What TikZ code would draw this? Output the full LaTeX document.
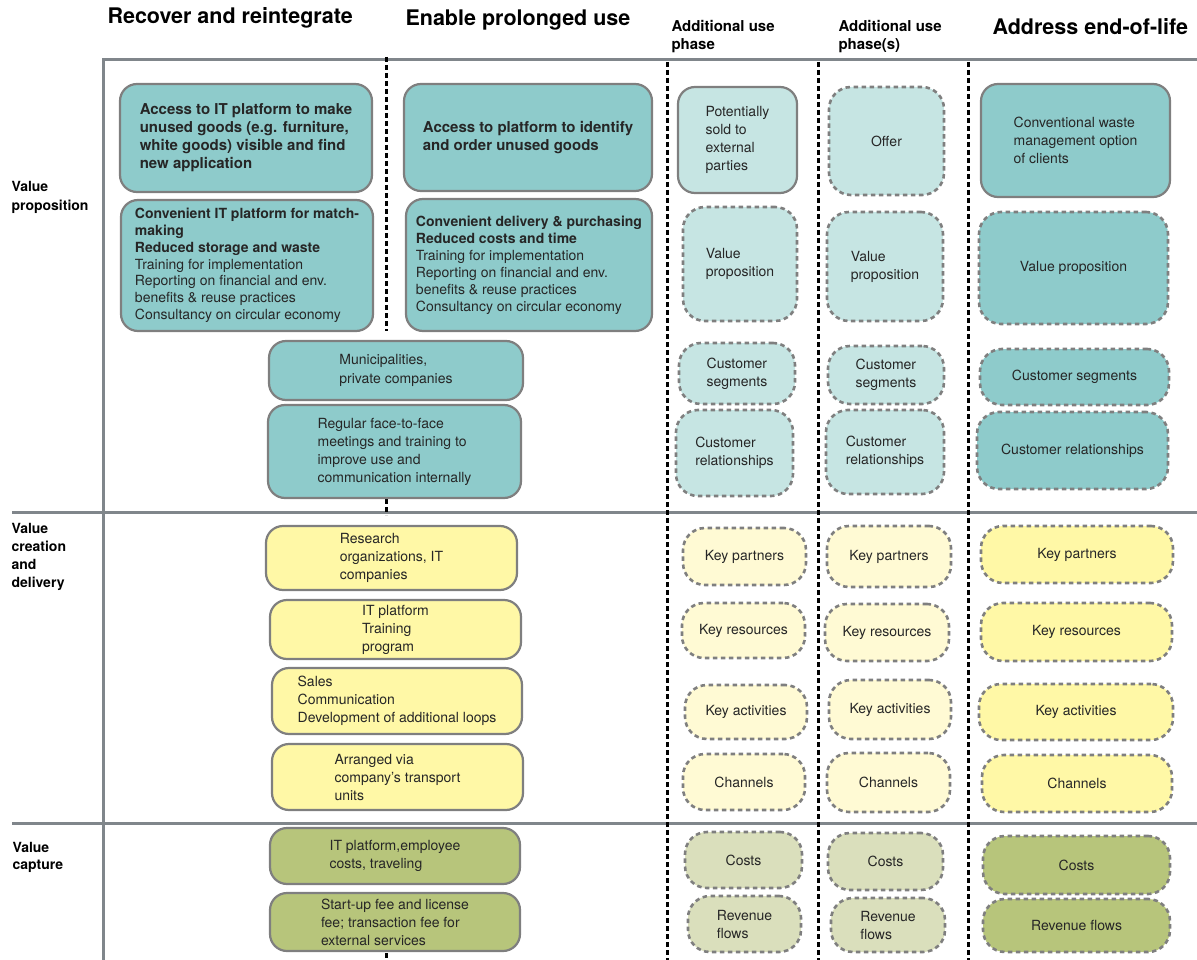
\documentclass[tikz,border=0pt]{standalone}
\usepackage{fontspec}
\setmainfont{TeX Gyre Heros}
\definecolor{tealA}{HTML}{8ECBCB}
\definecolor{tealB}{HTML}{C6E5E3}
\definecolor{yelA}{HTML}{FFF8A6}
\definecolor{yelB}{HTML}{FFFAD4}
\definecolor{grnA}{HTML}{B7C57B}
\definecolor{grnB}{HTML}{DADFBC}
\definecolor{edgegray}{HTML}{7F7F7F}
\definecolor{rulegray}{HTML}{80868B}
\tikzset{
  box/.style={draw=edgegray, line width=2.2pt, text=black!85, align=left, inner sep=0pt,
    font=\fontsize{14}{18}\selectfont},
  solidbox/.style={box, rounded corners=17pt},
  dashbox/.style={box, line width=2.6pt, rounded corners=22pt, dash pattern=on 4.5pt off 3.5pt},
  rule/.style={draw=rulegray, line width=3pt},
  divider/.style={line width=3pt, dash pattern=on 5pt off 3pt},
  heading/.style={anchor=west, font=\fontsize{21.5}{24}\selectfont\bfseries},
  colhead/.style={anchor=west, align=left, font=\fontsize{15}{18}\selectfont\bfseries},
  rowhead/.style={anchor=west, align=left, font=\fontsize{14}{18}\selectfont\bfseries}
}
\begin{document}
\begin{tikzpicture}[x=1pt,y=-1pt]
\useasboundingbox (0,0) rectangle (1197,960);
% frame
\draw[rule] (103,960) -- (103,60) -- (1197,60);
\draw[rule] (12,512) -- (1197,512);
\draw[rule] (12,823) -- (1197,823);
\draw[divider] (386,57) -- (386,331);
\draw[divider] (386,499) -- (386,515);
\draw[divider] (386,953) -- (386,960);
\draw[divider] (667,62) -- (667,960);
\draw[divider] (818,62) -- (818,960);
\draw[divider] (968,62) -- (968,960);
% headings
\node[heading] (h-recover) at (104,18) {Recover and reintegrate};
\node[heading] (h-prolong) at (402,20) {Enable prolonged use};
\node[colhead] (h-use1) at (668,37) {Additional use\\phase};
\node[colhead] (h-use2) at (835,37) {Additional use\\phase(s)};
\node[heading] (h-eol) at (989,27) {Address end-of-life};
\node[rowhead, font=\fontsize{14}{19}\selectfont\bfseries] (r-value) at (8,197) {Value\\proposition};
\node[rowhead] (r-creation) at (8,557) {Value\\creation\\and\\delivery};
\node[rowhead, font=\fontsize{14}{17}\selectfont\bfseries] (r-capture) at (9,857) {Value\\capture};
% recover and reintegrate / prolonged use
\node[solidbox, fill=tealA, minimum width=252, minimum height=108, font=\fontsize{15}{18}\selectfont\bfseries]
  (rec-offer) at (246,138) {Access to IT platform to make\\unused goods (e.g. furniture,\\white goods) visible and find\\new application};
\node[solidbox, fill=tealA, minimum width=252, minimum height=131, font=\fontsize{14}{16.8}\selectfont]
  (rec-value) at (247,265.5) {\textbf{Convenient IT platform for match-}\\\textbf{making}\\\textbf{Reduced storage and waste}\\Training for implementation\\Reporting on financial and env.\\benefits \& reuse practices\\Consultancy on circular economy};
\node[solidbox, fill=tealA, minimum width=248, minimum height=107, font=\fontsize{15}{18}\selectfont\bfseries]
  (pro-offer) at (528,137.5) {Access to platform to identify\\and order unused goods};
\node[solidbox, fill=tealA, minimum width=246, minimum height=132, font=\fontsize{14}{17}\selectfont]
  (pro-value) at (529,265) {\textbf{Convenient delivery \& purchasing}\\\textbf{Reduced costs and time}\\Training for implementation\\Reporting on financial and env.\\benefits \& reuse practices\\Consultancy on circular economy};
\node[solidbox, fill=tealA, minimum width=254, minimum height=59, font=\fontsize{14}{19}\selectfont]
  (segments) at (396,370.5) {Municipalities,\\private companies};
\node[solidbox, fill=tealA, minimum width=253, minimum height=93]
  (relations) at (394.5,451.5) {Regular face-to-face\\meetings and training to\\improve use and\\communication internally};
\node[solidbox, fill=yelA, minimum width=251, minimum height=64]
  (partners) at (391.5,558) {Research\\organizations, IT\\companies};
\node[solidbox, fill=yelA, minimum width=251, minimum height=59]
  (resources) at (395.5,629.5) {IT platform\\Training\\program};
\node[solidbox, fill=yelA, minimum width=250, minimum height=66]
  (activities) at (397,701) {Sales\\Communication\\Development of additional loops};
\node[solidbox, fill=yelA, minimum width=251, minimum height=66]
  (channels) at (397.5,777) {Arranged via\\company’s transport\\units};
\node[solidbox, fill=grnA, minimum width=250, minimum height=56]
  (costs) at (395,856) {IT platform,employee\\costs, traveling};
\node[solidbox, fill=grnA, minimum width=250, minimum height=58]
  (revenue) at (395,922) {Start-up fee and license\\fee; transaction fee for\\external services};
% additional use phase
\node[solidbox, fill=tealB, minimum width=119, minimum height=106] (use1-offer) at (737.5,140) {Potentially\\sold to\\external\\parties};
\node[dashbox, fill=tealB, minimum width=114, minimum height=114] (use1-value) at (740,264) {Value\\proposition};
\node[dashbox, fill=tealB, minimum width=116, minimum height=61] (use1-segments) at (737,373.5) {Customer\\segments};
\node[dashbox, fill=tealB, minimum width=117, minimum height=86] (use1-relations) at (734.5,453) {Customer\\relationships};
\node[dashbox, fill=yelB, minimum width=123, minimum height=57] (use1-partners) at (744.5,556.5) {Key partners};
\node[dashbox, fill=yelB, minimum width=123, minimum height=55] (use1-resources) at (743.5,630.5) {Key resources};
\node[dashbox, fill=yelB, minimum width=122, minimum height=54] (use1-activities) at (746,712) {Key activities};
\node[dashbox, fill=yelB, minimum width=122, minimum height=56] (use1-channels) at (744,782) {Channels};
\node[dashbox, fill=grnB, minimum width=117, minimum height=56] (use1-costs) at (743.5,860) {Costs};
\node[dashbox, fill=grnB, minimum width=113, minimum height=56] (use1-revenue) at (744.5,924) {Revenue\\flows};
% additional use phase(s)
\node[dashbox, fill=tealB, minimum width=115, minimum height=108] (use2-offer) at (886.5,141) {Offer};
\node[dashbox, fill=tealB, minimum width=116, minimum height=109] (use2-value) at (885,266.5) {Value\\proposition};
\node[dashbox, fill=tealB, minimum width=116, minimum height=58] (use2-segments) at (886,375) {Customer\\segments};
\node[dashbox, fill=tealB, minimum width=118, minimum height=84] (use2-relations) at (885,452) {Customer\\relationships};
\node[dashbox, fill=yelB, minimum width=124, minimum height=61] (use2-partners) at (889,556.5) {Key partners};
\node[dashbox, fill=yelB, minimum width=124, minimum height=57] (use2-resources) at (887,632.5) {Key resources};
\node[dashbox, fill=yelB, minimum width=122, minimum height=59] (use2-activities) at (890,709.5) {Key activities};
\node[dashbox, fill=yelB, minimum width=123, minimum height=59] (use2-channels) at (888.5,782.5) {Channels};
\node[dashbox, fill=grnB, minimum width=115, minimum height=57] (use2-costs) at (885.5,861.5) {Costs};
\node[dashbox, fill=grnB, minimum width=114, minimum height=54] (use2-revenue) at (888,925) {Revenue\\flows};
% end-of-life
\node[solidbox, fill=tealA, minimum width=189, minimum height=113] (eol-offer) at (1075.5,140.5) {Conventional waste\\management option\\of clients};
\node[dashbox, fill=tealA, minimum width=189, minimum height=112] (eol-value) at (1073.5,268) {Value proposition};
\node[dashbox, fill=tealA, minimum width=189, minimum height=56] (eol-segments) at (1074.5,377) {Customer segments};
\node[dashbox, fill=tealA, minimum width=191, minimum height=77] (eol-relations) at (1072.5,450.5) {Customer relationships};
\node[dashbox, fill=yelA, minimum width=192, minimum height=57] (eol-partners) at (1077,554.5) {Key partners};
\node[dashbox, fill=yelA, minimum width=191, minimum height=58] (eol-resources) at (1076.5,632) {Key resources};
\node[dashbox, fill=yelA, minimum width=194, minimum height=56] (eol-activities) at (1076,712) {Key activities};
\node[dashbox, fill=yelA, minimum width=190, minimum height=57] (eol-channels) at (1077,783.5) {Channels};
\node[dashbox, fill=grnA, minimum width=187, minimum height=58] (eol-costs) at (1076.5,865) {Costs};
\node[dashbox, fill=grnA, minimum width=187, minimum height=53] (eol-revenue) at (1076.5,925.5) {Revenue flows};
\end{tikzpicture}
\end{document}
